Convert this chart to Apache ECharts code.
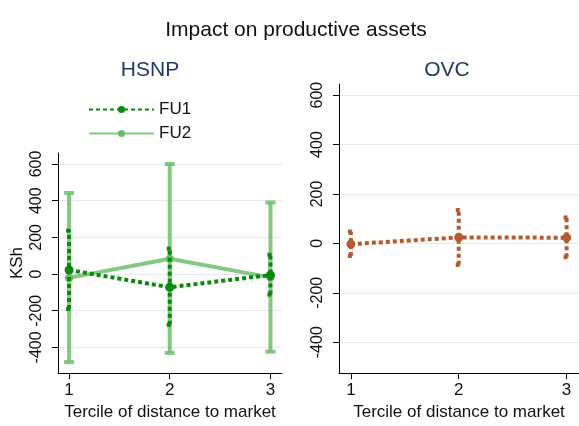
<!DOCTYPE html>
<html><head><meta charset="utf-8">
<script src="https://cdn.jsdelivr.net/npm/echarts@6/dist/echarts.min.js"></script>
<style>html,body{margin:0;padding:0;background:#fff}#c{width:579px;height:426px}</style>
</head><body><div id="c"></div>
<script>
const terciles = [1, 2, 3];
const yTicks = [-400, -200, 0, 200, 400, 600];
const hsnpFU1 = [22, -72, -5];
const hsnpFU1Lo = [-190, -277, -112];
const hsnpFU1Hi = [237, 138, 105];
const hsnpFU2 = [-21, 83, -18];
const hsnpFU2Lo = [-480, -430, -423];
const hsnpFU2Hi = [442, 600, 390];
const ovc = [-3, 24, 23];
const ovcLo = [-51, -87, -56];
const ovcHi = [48, 135, 105];

const FONT = '"Liberation Sans", Arial, sans-serif';
const dark = '#0a8a0a', light = 'rgba(110,190,110,0.85)', brown = '#b35a2e';

function errRender(color, width, dash, capW) {
  return function (params, api) {
    const x = api.value(0), lo = api.value(1), hi = api.value(2);
    const a = api.coord([x, lo]), b = api.coord([x, hi]);
    const st = { stroke: color, lineWidth: width, lineDash: dash, fill: null };
    return { type: 'group', children: [
      { type: 'line', shape: { x1: a[0], y1: a[1], x2: b[0], y2: b[1] }, style: st },
      { type: 'line', shape: { x1: a[0] - capW, y1: a[1], x2: a[0] + capW, y2: a[1] }, style: st },
      { type: 'line', shape: { x1: b[0] - capW, y1: b[1], x2: b[0] + capW, y2: b[1] }, style: st }
    ]};
  };
}
function pts(vals) { return terciles.map((t, i) => [t, vals[i]]); }
function ci(lo, hi) { return terciles.map((t, i) => [t, lo[i], hi[i]]); }

function xAxis(idx) {
  return {
    type: 'value', gridIndex: idx, min: 0.89, max: 3.115,
    name: 'Tercile of distance to market', nameLocation: 'middle', nameGap: 29,
    nameTextStyle: { fontFamily: FONT, fontSize: 17, color: '#111' },
    axisLine: { show: true, onZero: false, lineStyle: { color: '#000', width: 1 } },
    axisTick: { show: true, length: 6, customValues: terciles, lineStyle: { color: '#000' } },
    axisLabel: { customValues: terciles, fontFamily: FONT, fontSize: 17, color: '#111', margin: 9 },
    splitLine: { show: false }
  };
}
function yAxis(idx, min, max, name) {
  return {
    type: 'value', gridIndex: idx, min: min, max: max,
    name: name, nameLocation: 'middle', nameGap: 32, nameRotate: 90,
    nameTextStyle: { fontFamily: FONT, fontSize: 17, color: '#111' },
    axisLine: { show: true, onZero: false, lineStyle: { color: '#000', width: 1 } },
    axisTick: { show: true, length: 6, customValues: yTicks, lineStyle: { color: '#000' } },
    axisLabel: { customValues: yTicks, rotate: 90, fontFamily: FONT, fontSize: 16, color: '#111', margin: 13 },
    splitLine: { show: true, lineStyle: { color: '#e3e8f1', width: 1 } }
  };
}

const chart = echarts.init(document.getElementById('c'), null, { renderer: 'canvas' });
chart.setOption({
  animation: false,
  backgroundColor: '#fff',
  title: [
    { text: 'Impact on productive assets', left: 291, top: 15, textAlign: 'center',
      textStyle: { fontFamily: FONT, fontSize: 21, fontWeight: 'normal', color: '#111' } },
    { text: 'HSNP', left: 145, top: 55, textAlign: 'center',
      textStyle: { fontFamily: FONT, fontSize: 21, fontWeight: 'normal', color: '#1f3a6a' } },
    { text: 'OVC', left: 442, top: 55, textAlign: 'center',
      textStyle: { fontFamily: FONT, fontSize: 21, fontWeight: 'normal', color: '#1f3a6a' } }
  ],
  legend: {
    data: ['FU1', 'FU2'], orient: 'vertical', left: 83, top: 96, itemWidth: 65, itemHeight: 9, itemGap: 7,
    textStyle: { fontFamily: FONT, fontSize: 17, color: '#111' }
  },
  grid: [
    { left: 58, top: 153, width: 224, height: 230 },
    { left: 339, top: 84, width: 240, height: 299 }
  ],
  xAxis: [xAxis(0), xAxis(1)],
  yAxis: [yAxis(0, -540, 660, 'KSh'), yAxis(1, -525, 645, '')],
  series: [
    { type: 'custom', xAxisIndex: 0, yAxisIndex: 0, renderItem: errRender(light, 4, null, 5),
      data: ci(hsnpFU2Lo, hsnpFU2Hi), silent: true, z: 2 },
    { name: 'FU2', type: 'line', xAxisIndex: 0, yAxisIndex: 0, data: pts(hsnpFU2),
      color: '#6cba6c', symbol: 'circle', symbolSize: 8,
      lineStyle: { color: light, width: 4 }, itemStyle: { color: '#6cba6c' }, z: 3 },
    { type: 'custom', xAxisIndex: 0, yAxisIndex: 0, renderItem: errRender(dark, 4, [4, 3], 3),
      data: ci(hsnpFU1Lo, hsnpFU1Hi), silent: true, z: 4 },
    { name: 'FU1', type: 'line', xAxisIndex: 0, yAxisIndex: 0, data: pts(hsnpFU1),
      color: dark, symbol: 'circle', symbolSize: 9,
      lineStyle: { color: dark, width: 4, type: [4, 3] }, itemStyle: { color: dark }, z: 5 },
    { type: 'custom', xAxisIndex: 1, yAxisIndex: 1, renderItem: errRender(brown, 4, [4, 3], 3),
      data: ci(ovcLo, ovcHi), silent: true, z: 4 },
    { name: 'OVC', type: 'line', xAxisIndex: 1, yAxisIndex: 1, data: pts(ovc),
      color: brown, symbol: 'circle', symbolSize: 9,
      lineStyle: { color: brown, width: 4, type: [4, 3] }, itemStyle: { color: brown }, z: 5 }
  ]
});
</script></body></html>
